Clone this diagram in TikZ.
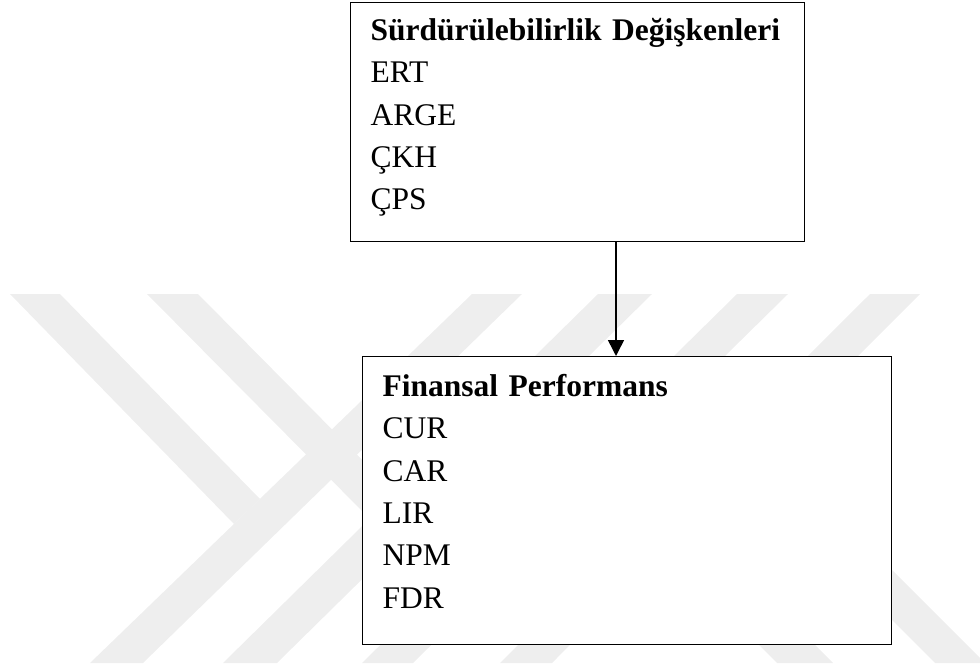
\documentclass[tikz,border=0pt]{standalone}
\usepackage{fontspec}
\setmainfont{Liberation Serif}
\usetikzlibrary{arrows.meta}
\definecolor{wmgray}{RGB}{238,238,238}

\begin{document}
\begin{tikzpicture}[x=1pt,y=-1pt,
    varbox/.style={draw=black, line width=1.3pt, fill=white, align=left, anchor=north west,
        inner xsep=20pt, inner ysep=0pt, font=\fontsize{31.5}{42.3}\selectfont},
    wmark/.style={fill=wmgray, draw=none}]
    \useasboundingbox (0,0) rectangle (980,669);
    % faint watermark behind the boxes
    \begin{scope}
        \clip (0,294) rectangle (980,663);
        \fill[wmark] (10,294) -- (60,294) -- (260,499) -- (234,524) -- cycle;
        \fill[wmark] (147,294) -- (198,294) -- (396,494) -- (370,519) -- cycle;
        \fill[wmark] (90,663) -- (143,663) -- (522,294) -- (472,294) -- cycle;
        \fill[wmark] (223,663) -- (277,663) -- (652,294) -- (598,294) -- cycle;
        \fill[wmark] (362,663) -- (413,663) -- (788,294) -- (737,294) -- cycle;
        \fill[wmark] (500,663) -- (552,663) -- (920,294) -- (870,294) -- cycle;
        \fill[wmark] (564,450) -- (620,450) -- (833,663) -- (777,663) -- cycle;
        \fill[wmark] (722,450) -- (772,450) -- (985,663) -- (935,663) -- cycle;
    \end{scope}
    \node[varbox, text width=414pt, text height=38pt, text depth=201pt] (surd) at (350,2)
        {\textbf{Sürdürülebilirlik Değişkenleri}\\ERT\\ARGE\\ÇKH\\ÇPS};
    \node[varbox, text width=489pt, text height=40pt, text depth=248pt] (finp) at (362,356)
        {\textbf{Finansal Performans}\\CUR\\CAR\\LIR\\NPM\\FDR};
    \draw[line width=1.5pt, -{Triangle[length=16pt,width=16pt]}]
        ([xshift=266pt]surd.south west) -- ([xshift=254pt]finp.north west);
\end{tikzpicture}
\end{document}
